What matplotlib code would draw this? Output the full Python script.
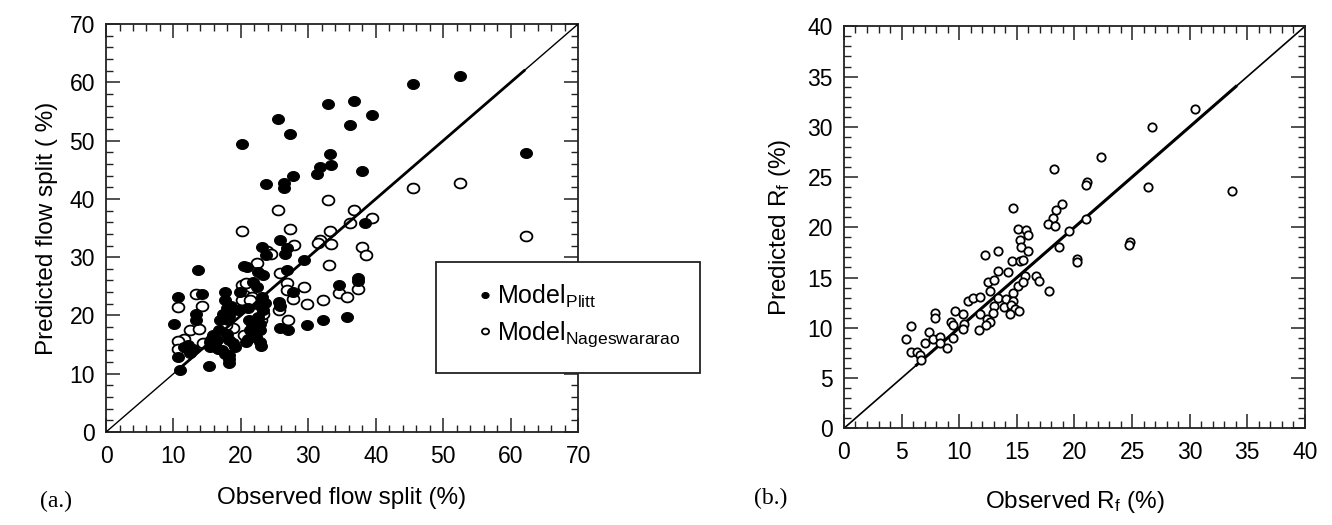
import numpy as np
import matplotlib

matplotlib.use("Agg")
import matplotlib.pyplot as plt
from matplotlib.path import Path
from matplotlib.patches import Rectangle
from matplotlib.ticker import MultipleLocator

plt.rcParams["font.family"] = ["Liberation Sans", "DejaVu Sans"]
plt.rcParams["mathtext.fontset"] = "custom"
plt.rcParams["mathtext.rm"] = "Liberation Sans"
plt.rcParams["mathtext.it"] = "Liberation Sans:italic"

# (a) flow split, observed vs predicted (%)
plitt_obs = [45.5, 52.5, 62.3, 32.9, 36.7, 25.5, 36.2, 39.4, 27.3, 20.1, 33.2, 33.3, 31.7, 31.3, 38.0,
             23.7, 26.4, 26.4, 27.7, 38.4, 26.6, 26.8, 25.8, 23.2, 23.7, 20.4, 20.9, 22.6, 23.3, 21.8,
             17.7, 19.9, 22.4, 23.1, 22.7, 23.3, 22.5, 22.8, 22.8, 22.3, 22.8, 23.0, 21.2, 21.4, 21.1,
             20.8, 21.6, 21.6, 23.6, 17.7, 18.0, 17.4, 16.9, 18.6, 18.3, 18.1, 16.7, 15.9, 16.4, 15.4,
             17.9, 18.3, 18.9, 17.2, 17.7, 18.2, 18.2, 15.3, 10.9, 10.7, 10.1, 10.6, 13.7, 14.2, 13.3,
             13.3, 11.5, 12.2, 12.9, 12.4, 15.4, 16.1, 16.6, 19.6, 21.1, 19.1, 18.2, 27.0, 25.8, 29.8,
             32.1, 35.8, 34.5, 37.4, 37.4, 29.3, 26.9, 27.7, 25.7, 25.8]
plitt_pred = [59.7, 61.0, 47.9, 56.3, 56.8, 53.7, 52.7, 54.4, 51.1, 49.4, 47.7, 45.8, 45.4, 44.3, 44.8,
              42.5, 42.7, 41.8, 43.9, 35.8, 30.6, 31.5, 33.0, 31.8, 30.4, 28.5, 28.4, 27.5, 26.9, 25.8,
              24.1, 24.1, 24.9, 23.2, 21.8, 21.0, 19.8, 18.6, 17.5, 16.3, 15.5, 14.7, 19.2, 17.5, 16.0,
              15.5, 18.6, 16.9, 22.2, 22.6, 21.2, 20.3, 19.2, 21.6, 19.9, 19.2, 17.5, 16.6, 15.8, 15.5,
              16.9, 15.8, 15.2, 14.0, 13.4, 12.6, 11.8, 11.3, 10.6, 12.9, 18.6, 23.2, 27.8, 23.7, 20.2,
              19.3, 14.6, 14.9, 14.3, 13.5, 14.6, 14.9, 14.3, 21.0, 21.3, 14.6, 13.2, 17.5, 17.8, 18.4,
              19.2, 19.8, 25.2, 26.4, 25.9, 29.6, 27.8, 24.1, 22.3, 21.7]

nag_obs = [45.5, 52.5, 62.3, 32.9, 25.5, 36.7, 39.4, 36.2, 27.3, 20.1, 33.2, 27.8, 31.8, 31.5, 33.3,
           37.9, 38.6, 33.0, 25.8, 26.8, 26.8, 27.7, 29.3, 29.8, 32.1, 34.5, 35.8, 37.3, 25.6, 27.0,
           20.1, 20.5, 21.6, 23.8, 10.6, 13.4, 14.3, 12.4, 13.8, 11.5, 10.7, 10.6, 14.4, 15.6, 18.8,
           17.8, 20.4, 20.1, 21.4, 20.8, 23.0, 23.3, 22.4, 24.5]
nag_pred = [41.9, 42.8, 33.6, 39.8, 38.1, 38.1, 36.8, 35.9, 34.8, 34.5, 34.5, 32.1, 32.9, 32.4, 32.3,
            31.7, 30.4, 28.6, 27.2, 25.5, 24.3, 22.9, 24.9, 21.9, 22.6, 23.9, 23.1, 24.6, 21.0, 19.2,
            25.2, 23.5, 23.2, 31.0, 21.4, 23.7, 21.6, 17.5, 17.6, 16.0, 15.7, 14.3, 15.2, 15.8, 17.8,
            18.4, 16.6, 22.6, 22.6, 25.5, 19.2, 20.3, 29.0, 30.5]

# (b) R_f, observed vs predicted (%)
rf_obs = [18.2, 14.7, 18.9, 18.4, 18.1, 17.7, 18.3, 15.1, 15.8, 16.0, 15.3, 15.4, 16.0, 12.2, 13.4,
          14.6, 15.3, 15.5, 13.4, 14.2, 15.7, 16.7, 16.9, 12.5, 13.0, 12.7, 17.8, 15.1, 15.5, 14.7,
          10.8, 11.2, 11.8, 13.4, 14.1, 14.7, 13.0, 13.9, 14.5, 14.8, 15.2, 14.4, 9.6, 10.3, 11.8,
          12.9, 12.4, 12.7, 12.3, 7.9, 7.9, 9.3, 9.5, 10.4, 10.3, 11.7, 9.5, 5.8, 5.4, 7.4,
          7.0, 7.7, 8.3, 8.9, 8.3, 5.8, 6.3, 6.6, 6.7, 18.7, 20.2, 20.2, 21.0, 19.5, 21.1,
          21.0, 22.3, 24.8, 24.7, 26.7, 26.4, 30.5, 33.7]
rf_pred = [25.8, 21.9, 22.3, 21.7, 20.9, 20.3, 20.1, 19.8, 19.7, 19.2, 18.7, 18.0, 17.6, 17.2, 17.6,
           16.6, 16.6, 16.7, 15.7, 15.6, 15.2, 15.2, 14.7, 14.6, 14.8, 13.7, 13.7, 14.2, 14.6, 13.5,
           12.7, 13.0, 13.1, 13.0, 12.9, 12.7, 12.2, 12.1, 12.3, 11.9, 11.7, 11.4, 11.7, 11.4, 11.4,
           11.5, 10.9, 10.6, 10.3, 11.5, 11.0, 10.6, 10.3, 10.4, 9.9, 9.8, 9.0, 10.2, 8.9, 9.6,
           8.5, 8.9, 9.1, 8.0, 8.5, 7.6, 7.6, 7.3, 6.8, 18.0, 16.8, 16.5, 20.8, 19.6, 24.5,
           24.2, 27.0, 18.5, 18.2, 30.0, 24.0, 31.8, 23.6]

# stretch of the 1:1 line drawn heavier
heavy_a = [10.5, 62.0]
heavy_b = [6.3, 34.0]

# slightly flattened dot used for the flow-split markers
t = np.linspace(0, 2 * np.pi, 64)
ellipse = Path(np.column_stack([1.2 * np.cos(t), np.sin(t)]), closed=True)

fig = plt.figure(figsize=(13.32, 5.25), dpi=100)
ax_a = fig.add_axes([0.0796, 0.1771, 0.3544, 0.7771])
ax_b = fig.add_axes([0.6336, 0.1842, 0.3461, 0.7657])


def style_axes(ax, lim, major, minor):
    ax.set_xlim(0, lim)
    ax.set_ylim(0, lim)
    ax.xaxis.set_major_locator(MultipleLocator(major))
    ax.yaxis.set_major_locator(MultipleLocator(major))
    ax.xaxis.set_minor_locator(MultipleLocator(minor))
    ax.yaxis.set_minor_locator(MultipleLocator(minor))
    ax.tick_params(which="both", direction="in", top=True, right=True, color="#222222")
    ax.tick_params(which="major", length=10, width=1.1, labelsize=16.5)
    ax.tick_params(which="minor", length=5, width=1.0)
    ax.tick_params(axis="x", which="major", pad=9)
    ax.tick_params(axis="y", which="major", pad=8)
    for sp in ax.spines.values():
        sp.set_linewidth(1.3)
        sp.set_color("#222222")


style_axes(ax_a, 70, 10, 2)
ax_a.plot([0, 70], [0, 70], color="black", lw=1.0, zorder=4)
ax_a.plot(heavy_a, heavy_a, color="black", lw=2.0, zorder=4)
nag_line, = ax_a.plot(nag_obs, nag_pred, ls="none", marker=ellipse, ms=8.5,
                      mfc="white", mec="black", mew=1.3, zorder=2)
plitt_line, = ax_a.plot(plitt_obs, plitt_pred, ls="none", marker=ellipse, ms=8.5,
                        mfc="black", mec="black", mew=0.8, zorder=3)
ax_a.set_xlabel("Observed flow split (%)", fontsize=17.5, labelpad=14)
ax_a.set_ylabel("Predicted flow split ( %)", fontsize=17.5, labelpad=8)

style_axes(ax_b, 40, 5, 1)
ax_b.plot([0, 40], [0, 40], color="black", lw=1.2, zorder=2)
ax_b.plot(heavy_b, heavy_b, color="black", lw=2.2, zorder=2)
ax_b.plot(rf_obs, rf_pred, ls="none", marker="o", ms=6, mfc="white",
          mec="black", mew=1.3, zorder=3)
ax_b.set_xlabel(r"Observed R$_\mathrm{f}$ (%)", fontsize=17.5, labelpad=18)
ax_b.set_ylabel(r"Predicted R$_\mathrm{f}$ (%)", fontsize=17.5, labelpad=10)

# legend box sits across the right edge of panel (a)
fig.patches.append(Rectangle((0.3273, 0.2895), 0.1982, 0.2114, transform=fig.transFigure,
                             facecolor="white", edgecolor="#222222", lw=1.3, zorder=1))
fig.legend([plitt_line, nag_line],
           [r"Model$_\mathrm{Plitt}$", r"Model$_\mathrm{Nageswararao}$"],
           loc="upper left", bbox_to_anchor=(0.349, 0.48), borderaxespad=0,
           frameon=False, fontsize=18, markerscale=0.6, handlelength=0.8,
           handletextpad=0.1, labelspacing=0.35)

fig.text(0.030, 0.045, "(a.)", family=["Liberation Serif", "DejaVu Serif"], fontsize=17, va="center")
fig.text(0.566, 0.050, "(b.)", family=["Liberation Serif", "DejaVu Serif"], fontsize=17, va="center")

fig.savefig("out.png", dpi=100)
